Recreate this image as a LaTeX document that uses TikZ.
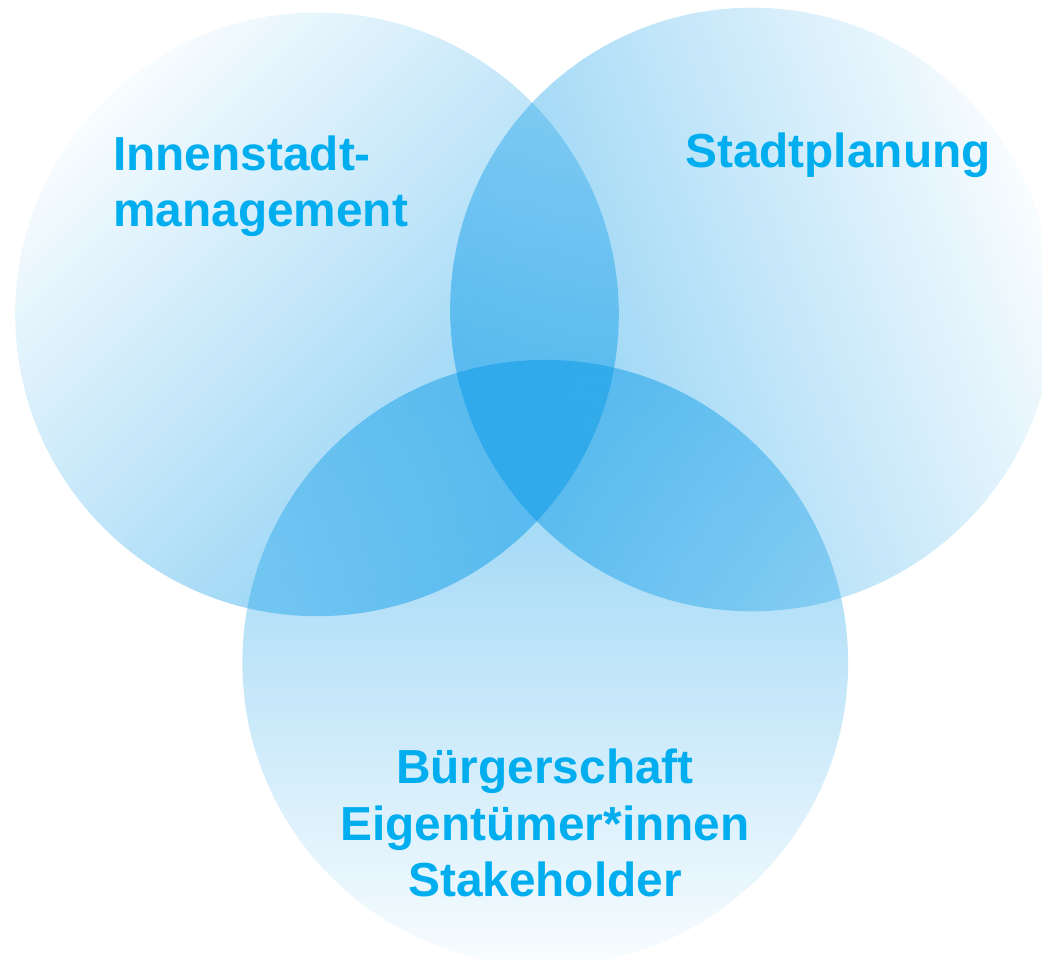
\documentclass[tikz,border=0pt]{standalone}
\usepackage{fontspec}
\setmainfont{Liberation Sans}
\usetikzlibrary{fadings}
\definecolor{vennblue}{RGB}{0,150,230}
\definecolor{titlecyan}{RGB}{0,174,239}
\tikzfading[name=softedge, top color=transparent!95, bottom color=transparent!0]

\begin{document}
\begin{tikzpicture}[
    venncircle/.style={fill=vennblue, fill opacity=0.47, path fading=softedge},
    venntext/.style={titlecyan, font=\bfseries\fontsize{34}{40.5}\selectfont, inner sep=0pt}
  ]
    \useasboundingbox (0,0) rectangle (26.05,24);

    % Three overlapping circles, each fading out to one side
    \fill[venncircle, fading angle=45] (7.925,16.225) circle (7.575);
    \fill[venncircle, fading angle=-70] (18.875,16.225) circle (7.575);
    \fill[venncircle, fading angle=180] (13.625,7.425) circle (7.575);

    % Labels
    \node[venntext, anchor=base west, align=left] (inner) at (2.825,18.325) {Innenstadt-\\management};
    \node[venntext, anchor=base west] (planning) at (17.125,19.8) {Stadtplanung};
    \node[venntext, anchor=base, align=center] (citizens) at (13.625,1.575) {Bürgerschaft\\Eigentümer*innen\\Stakeholder};
\end{tikzpicture}
\end{document}
